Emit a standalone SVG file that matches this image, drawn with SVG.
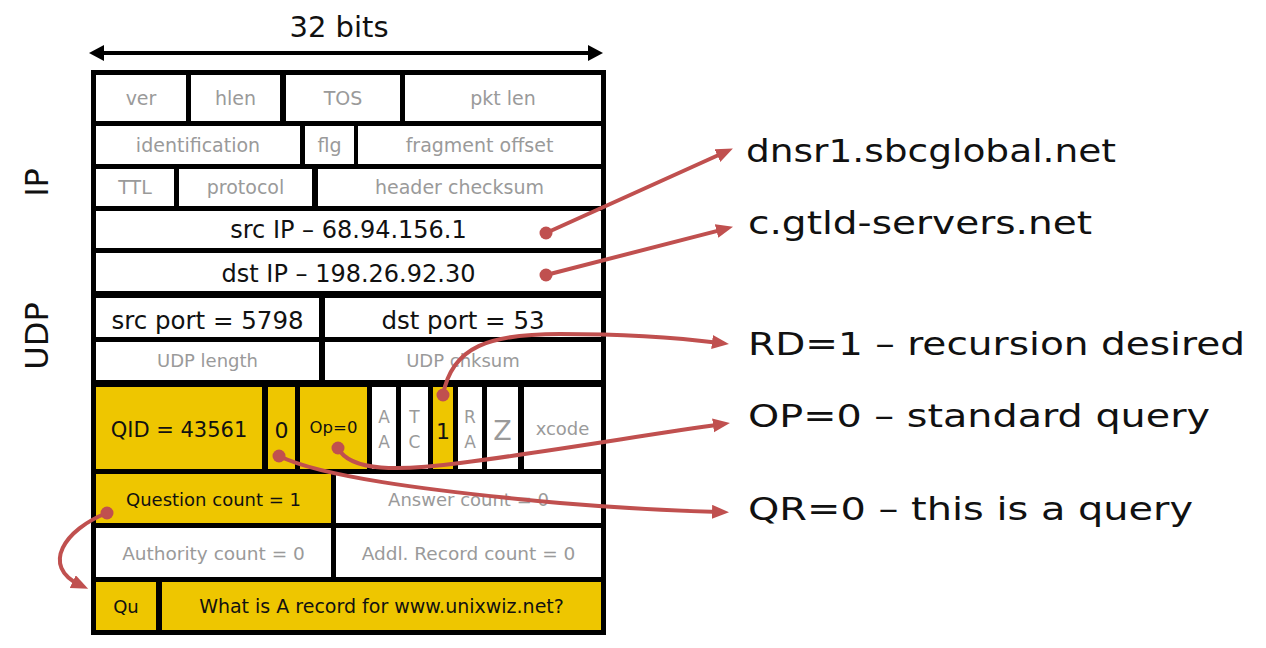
<svg xmlns="http://www.w3.org/2000/svg" width="1266" height="648" viewBox="0 0 1266 648">
<style>
.w{fill:#ffffff}
.y{fill:#EEC600}
.t{font-family:"DejaVu Sans","Liberation Sans",sans-serif;text-anchor:middle}
.g{fill:#9a9a9a}
.k{fill:#111111}
.lbl{font-family:"DejaVu Sans","Liberation Sans",sans-serif;fill:#111111;font-size:32px}
.conn{fill:none;stroke:#C0504F;stroke-width:4;stroke-linecap:round}
.dot{fill:#C0504F}
.s19{font-size:19px}
.s18{font-size:18.5px}
.s24{font-size:24px}
</style>
<defs>
<marker id="ah" markerUnits="userSpaceOnUse" markerWidth="18" markerHeight="16" refX="8" refY="7" orient="auto">
<path d="M0,0 L17,7 L0,14 Z" fill="#C0504F"/>
</marker>
<marker id="bh" markerUnits="userSpaceOnUse" markerWidth="16" markerHeight="18" refX="6" refY="8" orient="auto-start-reverse">
<path d="M0,0 L15,8 L0,16 Z" fill="#000"/>
</marker>
</defs>
<rect width="1266" height="648" fill="#ffffff"/>

<g id="width-label">
<line x1="98" y1="53" x2="594" y2="53" stroke="#000" stroke-width="4" marker-start="url(#bh)" marker-end="url(#bh)"/>
<text class="t k" x="339" y="37" font-size="29">32 bits</text>
</g>
<g id="ip-label"><text class="t k" font-size="32" transform="translate(48,182.5) rotate(-90)">IP</text></g>
<g id="udp-label"><text class="t k" font-size="32" transform="translate(48,336) rotate(-90)">UDP</text></g>

<g id="frame"><rect x="91" y="70" width="515" height="565" fill="#000"/></g>

<g id="ver"><rect class="w" x="96" y="75" width="90" height="46"/><text class="t g s19" x="141" y="105">ver</text></g>
<g id="hlen"><rect class="w" x="191" y="75" width="89" height="46"/><text class="t g s19" x="235.5" y="105">hlen</text></g>
<g id="tos"><rect class="w" x="286" y="75" width="114" height="46"/><text class="t g s19" x="343" y="105">TOS</text></g>
<g id="pktlen"><rect class="w" x="405" y="75" width="196" height="46"/><text class="t g s19" x="503" y="105">pkt len</text></g>

<g id="identification"><rect class="w" x="96" y="126" width="204" height="38"/><text class="t g s19" x="198" y="151.5">identification</text></g>
<g id="flg"><rect class="w" x="305" y="126" width="49" height="38"/><text class="t g s19" x="329.5" y="151.5">flg</text></g>
<g id="fragoff"><rect class="w" x="358" y="126" width="243" height="38"/><text class="t g s19" x="479.5" y="151.5">fragment offset</text></g>

<g id="ttl"><rect class="w" x="96" y="169" width="78" height="37"/><text class="t g s19" x="135" y="193.5">TTL</text></g>
<g id="protocol"><rect class="w" x="179" y="169" width="133" height="37"/><text class="t g s19" x="245.5" y="193.5">protocol</text></g>
<g id="hdrcksum"><rect class="w" x="318" y="169" width="283" height="37"/><text class="t g s19" x="459.5" y="193.5">header checksum</text></g>

<g id="srcip"><rect class="w" x="96" y="211" width="505" height="37"/><text class="t k s24" x="348.5" y="238">src IP – 68.94.156.1</text></g>
<g id="dstip"><rect class="w" x="96" y="253" width="505" height="38"/><text class="t k s24" x="348.5" y="281.5">dst IP – 198.26.92.30</text></g>

<g id="srcport"><rect class="w" x="96" y="298" width="223" height="39"/><text class="t k" font-size="24.5" x="207.5" y="328.5">src port = 5798</text></g>
<g id="dstport"><rect class="w" x="325" y="298" width="276" height="39"/><text class="t k" font-size="24.5" x="463" y="328.5">dst port = 53</text></g>
<g id="udplen"><rect class="w" x="96" y="342" width="223" height="38"/><text class="t g" font-size="18" x="207.5" y="367">UDP length</text></g>
<g id="udpck"><rect class="w" x="325" y="342" width="276" height="38"/><text class="t g" font-size="18" x="463" y="367">UDP chksum</text></g>

<g id="qid"><rect class="y" x="96" y="387" width="166" height="82"/><text class="t k" font-size="21" x="179" y="436.5">QID = 43561</text></g>
<g id="qr"><rect class="y" x="268" y="387" width="27" height="82"/><text class="t k" font-size="22" x="281.5" y="438">0</text></g>
<g id="op"><rect class="y" x="300" y="387" width="67" height="82"/><text class="t k" font-size="16.5" x="333.5" y="433">Op=0</text></g>
<g id="aa"><rect class="w" x="372" y="387" width="24" height="82"/><text class="t g" font-size="17" x="384" y="423">A</text><text class="t g" font-size="17" x="384" y="448">A</text></g>
<g id="tc"><rect class="w" x="401" y="387" width="27" height="82"/><text class="t g" font-size="17" x="414.5" y="423">T</text><text class="t g" font-size="17" x="414.5" y="448">C</text></g>
<g id="rd"><rect class="y" x="433" y="387" width="20" height="82"/><text class="t k" font-size="22" x="443" y="439">1</text></g>
<g id="ra"><rect class="w" x="458" y="387" width="24" height="82"/><text class="t g" font-size="17" x="470" y="423">R</text><text class="t g" font-size="17" x="470" y="448">A</text></g>
<g id="z"><rect class="w" x="487" y="387" width="31" height="82"/><text class="t g" font-size="27" x="502.5" y="440">Z</text></g>
<g id="xcode"><rect class="w" x="524" y="387" width="77" height="82"/><text class="t g" font-size="18" x="562.5" y="435">xcode</text></g>

<g id="qcount"><rect class="y" x="96" y="474" width="235" height="49"/><text class="t k" font-size="18" x="213.5" y="506">Question count = 1</text></g>
<g id="acount"><rect class="w" x="336" y="474" width="265" height="49"/><text class="t g" font-size="18" x="468.5" y="506">Answer count = 0</text></g>
<g id="nscount"><rect class="w" x="96" y="528" width="235" height="49"/><text class="t g s18" x="213.5" y="560">Authority count = 0</text></g>
<g id="arcount"><rect class="w" x="336" y="528" width="265" height="49"/><text class="t g s18" x="468.5" y="560">Addl. Record count = 0</text></g>

<g id="qu"><rect class="y" x="96" y="582" width="60" height="48"/><text class="t k" font-size="18" x="126" y="613">Qu</text></g>
<g id="question"><rect class="y" x="162" y="582" width="439" height="48"/><text class="t k s19" x="381.5" y="613">What is A record for www.unixwiz.net?</text></g>

<g id="lbl-src"><text class="lbl" x="746" y="162" textLength="370" lengthAdjust="spacingAndGlyphs">dnsr1.sbcglobal.net</text></g>
<g id="lbl-dst"><text class="lbl" x="748" y="233.5" textLength="344" lengthAdjust="spacingAndGlyphs">c.gtld-servers.net</text></g>
<g id="lbl-rd"><text class="lbl" x="748" y="354.5" textLength="497" lengthAdjust="spacingAndGlyphs">RD=1 – recursion desired</text></g>
<g id="lbl-op"><text class="lbl" x="748" y="426.5" textLength="462" lengthAdjust="spacingAndGlyphs">OP=0 – standard query</text></g>
<g id="lbl-qr"><text class="lbl" x="748" y="520" textLength="445" lengthAdjust="spacingAndGlyphs">QR=0 – this is a query</text></g>

<g id="connectors">
<path class="conn" d="M546,233 L724.7,152.3" marker-end="url(#ah)"/>
<path class="conn" d="M546,275 L724.3,229.1" marker-end="url(#ah)"/>
<path class="conn" d="M443,395 C452,346 490,334 560,334 C620,334 680,338 720,343" marker-end="url(#ah)"/>
<path class="conn" d="M338,448 C350,472 400,471 460,463 C560,450 650,434 721,424.3" marker-end="url(#ah)"/>
<path class="conn" d="M279,456 C320,476 420,490 560,503 C620,508 680,511 720,512" marker-end="url(#ah)"/>
<path class="conn" d="M107,513 C65,529 40,566 80,585" marker-end="url(#ah)"/>
<circle class="dot" cx="546" cy="233" r="6.5"/>
<circle class="dot" cx="546" cy="275" r="6.5"/>
<circle class="dot" cx="443" cy="395" r="6.5"/>
<circle class="dot" cx="338" cy="448" r="6.5"/>
<circle class="dot" cx="279" cy="456" r="6.5"/>
<circle class="dot" cx="107" cy="513" r="6.5"/>
</g>
</svg>
